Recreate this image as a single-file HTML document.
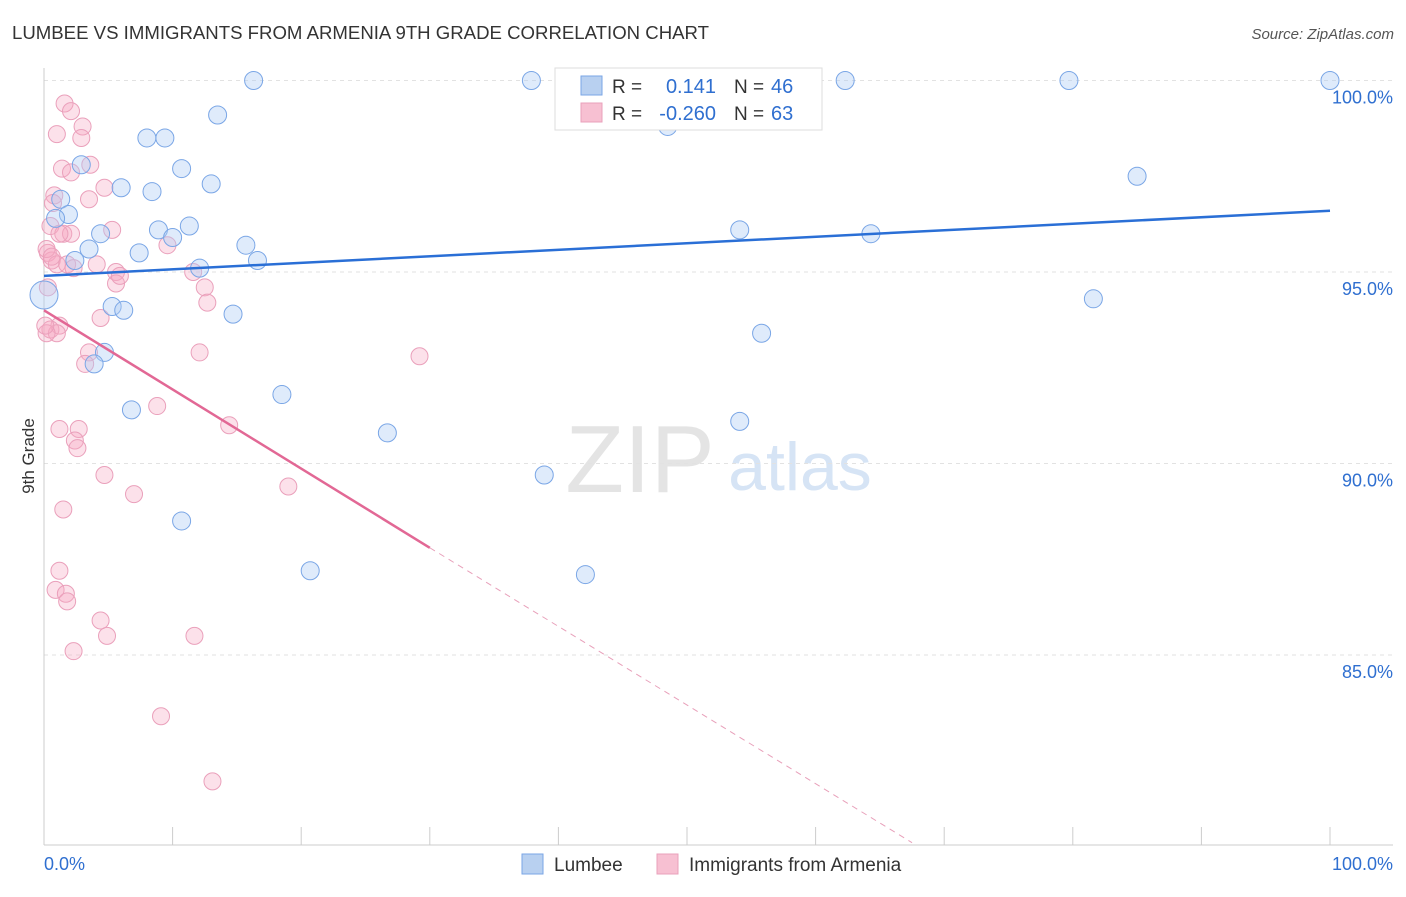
<!DOCTYPE html>
<html><head><meta charset="utf-8"><style>
body{margin:0;background:#fff;font-family:"Liberation Sans",sans-serif}
svg text{font-family:"Liberation Sans",sans-serif}
</style></head><body>
<svg id="c" width="1406" height="892" xmlns="http://www.w3.org/2000/svg">
<text x="12" y="39" font-size="18" fill="#333" textLength="697" lengthAdjust="spacingAndGlyphs">LUMBEE VS IMMIGRANTS FROM ARMENIA 9TH GRADE CORRELATION CHART</text>
<text x="1394" y="39" font-size="15" fill="#555" text-anchor="end" font-style="italic">Source: ZipAtlas.com</text>
<text x="640" y="492" font-size="96" fill="#e4e4e4" text-anchor="middle" font-family="Liberation Serif">ZIP</text>
<text x="800" y="490" font-size="68" fill="#d6e4f5" text-anchor="middle">atlas</text>
<text x="34" y="456" font-size="17" fill="#333" transform="rotate(-90 34 456)" text-anchor="middle">9th Grade</text>
<g id="grid"></g><g id="pts"></g><g id="lines"></g>
<g>
<rect x="555" y="68" width="267" height="62" fill="#fff" stroke="#ddd"/>
<rect x="581" y="76" width="21" height="19" fill="#b8d0f0" stroke="#7aa6e6"/>
<rect x="581" y="103" width="21" height="19" fill="#f7c0d2" stroke="#eaa0bb"/>
<text x="612" y="93" font-size="19" fill="#333">R =</text><text x="716" y="93" font-size="20" fill="#2f6fd0" text-anchor="end">0.141</text>
<text x="734" y="93" font-size="19" fill="#333">N =</text><text x="771" y="93" font-size="20" fill="#2f6fd0">46</text>
<text x="612" y="120" font-size="19" fill="#333">R =</text><text x="716" y="120" font-size="20" fill="#2f6fd0" text-anchor="end">-0.260</text>
<text x="734" y="120" font-size="19" fill="#333">N =</text><text x="771" y="120" font-size="20" fill="#2f6fd0">63</text>
</g>
<g>
<rect x="522" y="854" width="21" height="20" fill="#b8d0f0" stroke="#7aa6e6"/><text x="554" y="871" font-size="19" fill="#333">Lumbee</text>
<rect x="657" y="854" width="21" height="20" fill="#f7c0d2" stroke="#eaa0bb"/><text x="689" y="871" font-size="19" fill="#333">Immigrants from Armenia</text>
</g>
</svg>
<script>
const yTicks=[100,95,90,85];
const xTicks=[0,10,20,30,40,50,60,70,80,90,100];
const blueX=[16.3,37.9,62.3,79.7,100,13.5,8,9.4,48.5,2.9,10.7,6,8.4,13,85,1.3,1.9,0.9,4.4,8.9,10,11.3,54.1,64.3,3.5,7.4,15.7,2.4,12.1,16.6,0,5.3,6.2,14.7,81.6,55.8,4.7,3.9,18.5,6.8,26.7,54.1,38.9,10.7,20.7,42.1];
const blueY=[100,100,100,100,100,99.1,98.5,98.5,98.8,97.8,97.7,97.2,97.1,97.3,97.5,96.9,96.5,96.4,96,96.1,95.9,96.2,96.1,96,95.6,95.5,95.7,95.3,95.1,95.3,94.4,94.1,94,93.9,94.3,93.4,92.9,92.6,91.8,91.4,90.8,91.1,89.7,88.5,87.2,87.1];
const blueR=[9,9,9,9,9,9,9,9,9,9,9,9,9,9,9,9,9,9,9,9,9,9,9,9,9,9,9,9,9,9,14,9,9,9,9,9,9,9,9,9,9,9,9,9,9,9];
const pinkX=[1.6,2.1,3,1,2.9,3.6,1.4,2.1,4.7,3.5,0.8,0.7,0.5,1.5,2.1,5.3,0.3,0.6,1,1.8,2.3,4.1,5.6,11.6,9.6,5.6,12.5,12.7,4.4,1.2,0.5,1,0.2,3.5,12.1,29.2,8.8,14.4,1.2,2.7,2.4,2.6,4.7,7,19,1.5,1.2,0.9,1.7,1.8,4.4,4.9,11.7,2.3,9.1,13.1,0.3,0.2,0.6,1.2,0.1,3.2,5.9];
const pinkY=[99.4,99.2,98.8,98.6,98.5,97.8,97.7,97.6,97.2,96.9,97,96.8,96.2,96,96,96.1,95.5,95.3,95.2,95.2,95.1,95.2,95,95,95.7,94.7,94.6,94.2,93.8,93.6,93.5,93.4,93.4,92.9,92.9,92.8,91.5,91,90.9,90.9,90.6,90.4,89.7,89.2,89.4,88.8,87.2,86.7,86.6,86.4,85.9,85.5,85.5,85.1,83.4,81.7,94.6,95.6,95.4,96,93.6,92.6,94.9];
const blueLine=[[0,94.9],[100,96.6]];
const pinkLine=[[0,94],[30,87.8],[67.5,80.1]];
const X=v=>44+v*12.86, Y=v=>80.5+(100-v)*38.3;
const NS="http://www.w3.org/2000/svg";
function mk(p,t,a){const e=document.createElementNS(NS,t);for(const k in a)e.setAttribute(k,a[k]);p.appendChild(e);return e;}
const grid=document.getElementById('grid');
yTicks.forEach(t=>{const l=mk(grid,'line',{x1:44,x2:1393,y1:Y(t),y2:Y(t),stroke:'#e2e2e2','stroke-dasharray':'4,4'});


const tx=mk(grid,'text',{x:1393,y:Y(t)+23,'font-size':18,fill:'#2f6fd0','text-anchor':'end'});tx.textContent=t.toFixed(1)+'%';

});
mk(grid,'line',{x1:44,x2:44,y1:68,y2:845,stroke:'#ccc'});
mk(grid,'line',{x1:44,x2:1393,y1:845,y2:845,stroke:'#ccc'});
xTicks.forEach(t=>{const l=mk(grid,'line',{x1:X(t),x2:X(t),y1:827,y2:845,stroke:'#ccc'});

});
[[0,'0.0%','start',44],[100,'100.0%','end',1393]].forEach(d=>{const tx=mk(grid,'text',{x:d[3],y:870,'font-size':18,fill:'#2f6fd0','text-anchor':d[2]});tx.textContent=d[1];

});
const pts=document.getElementById('pts');
pinkX.forEach((v,i)=>{const c=mk(pts,'circle',{cx:X(v),cy:Y(pinkY[i]),r:8.5,fill:'rgba(245,170,195,0.35)',stroke:'#eaa0bb','stroke-width':1});

});
blueX.forEach((v,i)=>{const c=mk(pts,'circle',{cx:X(v),cy:Y(blueY[i]),r:blueR[i],fill:'rgba(175,205,245,0.4)',stroke:'#7aa6e6','stroke-width':1});

});
const lines=document.getElementById('lines');
const b=mk(lines,'line',{x1:X(blueLine[0][0]),y1:Y(blueLine[0][1]),x2:X(blueLine[1][0]),y2:Y(blueLine[1][1]),stroke:'#2a6fd6','stroke-width':2.5});


const p=mk(lines,'line',{x1:X(pinkLine[0][0]),y1:Y(pinkLine[0][1]),x2:X(pinkLine[1][0]),y2:Y(pinkLine[1][1]),stroke:'#e26895','stroke-width':2.5});


const pd=mk(lines,'line',{x1:X(pinkLine[1][0]),y1:Y(pinkLine[1][1]),x2:X(pinkLine[2][0]),y2:Y(pinkLine[2][1]),stroke:'#e8a0ba','stroke-width':1,'stroke-dasharray':'6,5'});


</script>
</body></html>
